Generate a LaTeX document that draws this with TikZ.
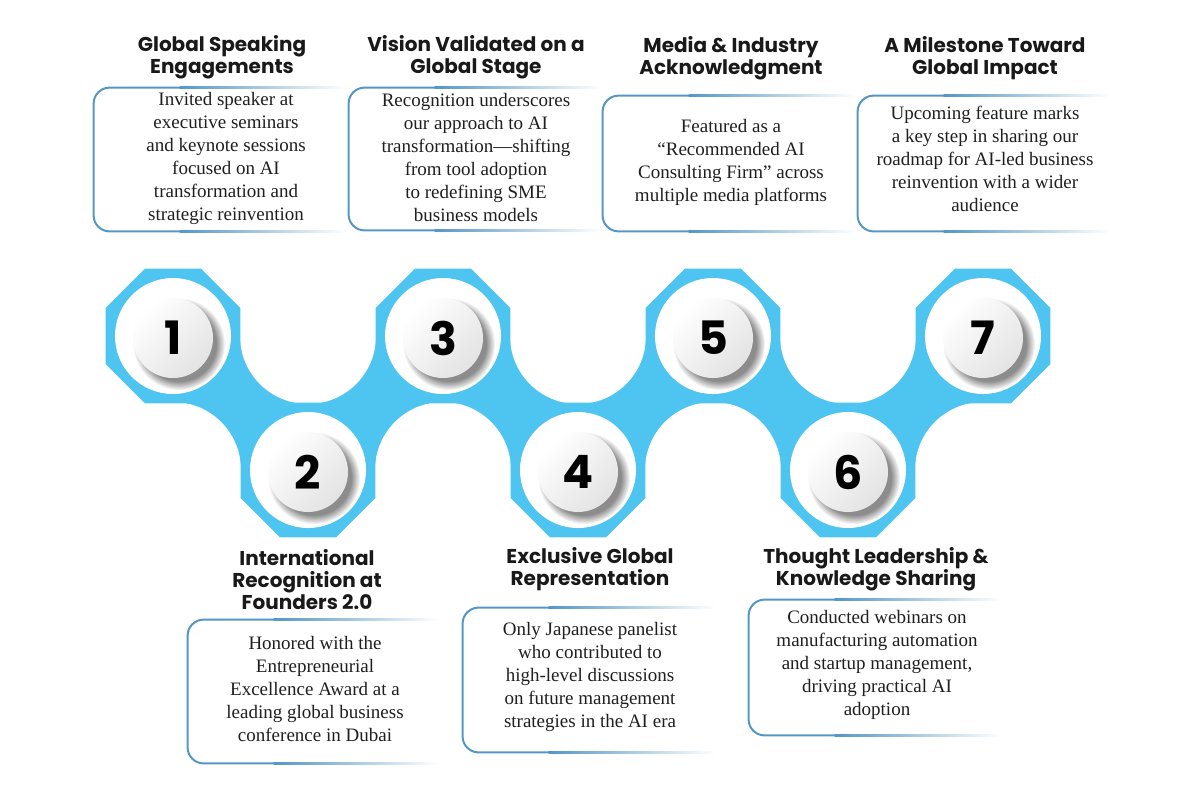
\documentclass[tikz,border=0pt]{standalone}
\usepackage{fontspec}
\setmainfont{Liberation Serif}
\newfontfamily\headfont{Poppins}
\usetikzlibrary{shapes.geometric, positioning, fadings}

\definecolor{bandblue}{RGB}{78,196,240}
\definecolor{boxblue}{RGB}{86,150,198}

\begin{document}
\begin{tikzpicture}[x=0.5pt, y=-0.5pt,
  octa/.style={regular polygon, regular polygon sides=8, minimum size=73pt, inner sep=0pt, fill=bandblue},
  ring/.style={circle, minimum size=58pt, inner sep=0pt, fill=white},
  disc/.style={circle, minimum size=40pt, inner sep=0pt, top color=white, bottom color=gray!22, shading angle=45, font=\headfont\bfseries\fontsize{23}{23}\selectfont},
  infobox/.style={minimum width=126pt, inner sep=0pt},
  boxline/.style={draw=boxblue, line width=1pt, rounded corners=8pt},
  head/.style={font=\headfont\bfseries\fontsize{10}{11}\selectfont, align=center, text=black!90},
  body/.style={font=\fontsize{9.5}{11.5}\selectfont, align=center, text=black!88}]
  \useasboundingbox (0,0) rectangle (1200,800);

  % Blue band behind the steps
  \fill[bandblue] (173,336) rectangle (983,470);
  \foreach \x in {308,578,848} \fill[white] (\x,336) circle (68);
  \foreach \x in {173,443,713,983} \fill[white] (\x,470) circle (68);

  % Step octagons
  \foreach \i/\x/\y in {1/173/336, 2/308/470, 3/443/336, 4/578/470, 5/713/336, 6/848/470, 7/983/336}
    \node[octa] (o\i) at (\x,\y) {};

  % Numbered discs
  \foreach \i in {1,...,7} {
    \node[ring] (r\i) at (o\i) {};
    \fill[black!45, path fading=circle with fuzzy edge 20 percent] ([xshift=3pt, yshift=-4pt]o\i.center) circle (46);
    \node[disc] (d\i) at ([yshift=-1pt]o\i.center) {\i};
  }

  % Text boxes, border fading out to the right
  \node[infobox, minimum height=71.5pt] (bx1) at (220,159.5) {};
  \node[infobox, minimum height=71pt] (bx3) at (475,159) {};
  \node[infobox, minimum height=67.5pt] (bx5) at (729,163.5) {};
  \node[infobox, minimum height=67.5pt] (bx7) at (984,163.5) {};
  \node[infobox, minimum height=71.5pt] (bx2) at (314,691.5) {};
  \node[infobox, minimum height=72pt] (bx4) at (589,680) {};
  \node[infobox, minimum height=67.5pt] (bx6) at (875,667.5) {};
  \foreach \b in {bx1,bx2,bx3,bx4,bx5,bx6,bx7} {
    \draw[boxline] ([xshift=-20pt]\b.north) -- (\b.north west) -- (\b.south west) -- ([xshift=-20pt]\b.south);
    \shade[left color=boxblue, right color=white] ([xshift=-20.2pt, yshift=0.5pt]\b.north) rectangle ([yshift=-0.5pt]\b.north east);
    \shade[left color=boxblue, right color=white] ([xshift=-20.2pt, yshift=0.5pt]\b.south) rectangle ([yshift=-0.5pt]\b.south east);
  }

  % Headings
  \node[head] (h1) at (222,57) {Global Speaking\\Engagements};
  \node[head] (h3) at (476,57) {Vision Validated on a\\Global Stage};
  \node[head] (h5) at (731,58.5) {Media \& Industry\\Acknowledgment};
  \node[head] (h7) at (985,58.5) {A Milestone Toward\\Global Impact};
  \node[head] (h2) at (307,580) {International\\Recognition at\\Founders 2.0};
  \node[head] (h4) at (590,569) {Exclusive Global\\Representation};
  \node[head] (h6) at (876,569) {Thought Leadership \&\\Knowledge Sharing};

  % Descriptions
  \node[body] (t1) at (226,158) {Invited speaker at\\executive seminars\\and keynote sessions\\focused on AI\\transformation and\\strategic reinvention};
  \node[body] (t3) at (476,157) {Recognition underscores\\our approach to AI\\transformation—shifting\\from tool adoption\\to redefining SME\\business models};
  \node[body] (t5) at (731,162) {Featured as a\\“Recommended AI\\Consulting Firm” across\\multiple media platforms};
  \node[body] (t7) at (985,159) {Upcoming feature marks\\a key step in sharing our\\roadmap for AI-led business\\reinvention with a wider\\audience};
  \node[body] (t2) at (315,689) {Honored with the\\Entrepreneurial\\Excellence Award at a\\leading global business\\conference in Dubai};
  \node[body] (t4) at (590,677) {Only Japanese panelist\\who contributed to\\high-level discussions\\on future management\\strategies in the AI era};
  \node[body] (t6) at (877,664.5) {Conducted webinars on\\manufacturing automation\\and startup management,\\driving practical AI\\adoption};
\end{tikzpicture}
\end{document}
